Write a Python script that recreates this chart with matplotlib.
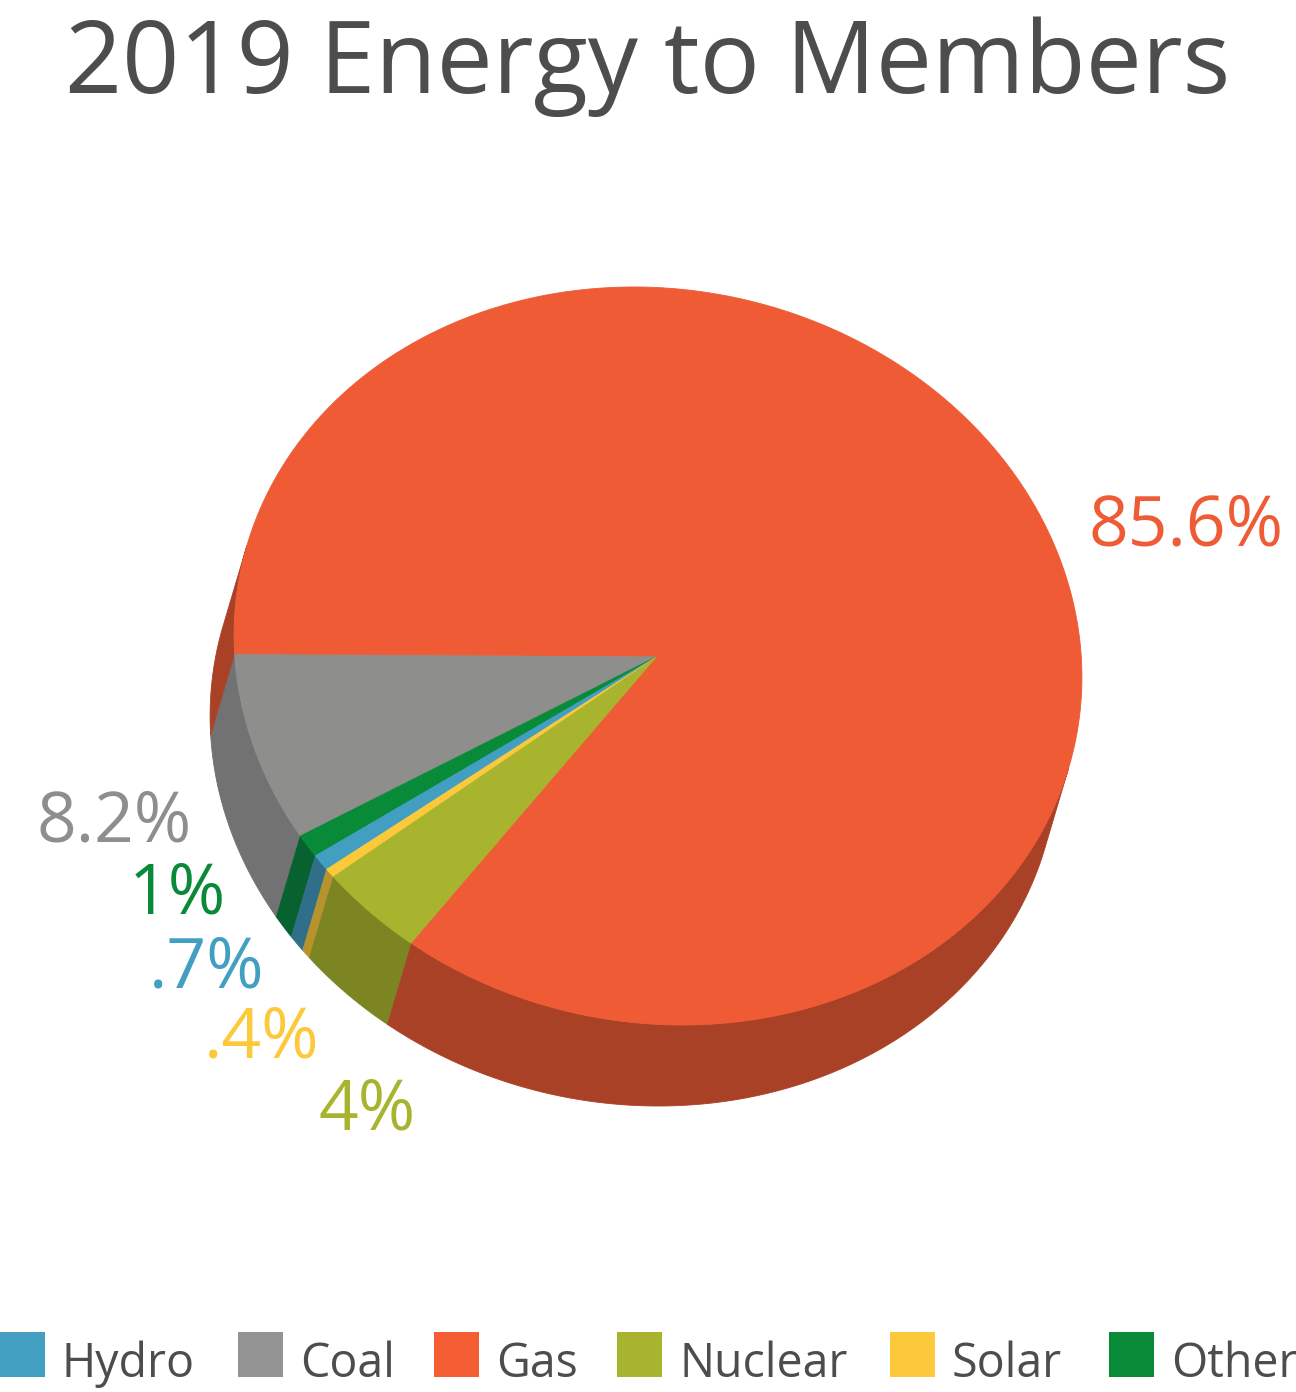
import numpy as np
import matplotlib
matplotlib.use("Agg")
import matplotlib.pyplot as plt
from matplotlib.patches import Polygon, Rectangle

# ---- data -------------------------------------------------------------
title = "2019 Energy to Members"

# slices in drawing order (counter-clockwise from the left edge)
slices = ["Coal", "Other", "Hydro", "Solar", "Nuclear", "Gas"]
shares = [8.2, 1.0, 0.7, 0.4, 4.0, 85.6]
top_colors  = ["#8E8F8D", "#098A38", "#439FC1", "#FCC93B", "#A8B42E", "#EE5B35"]
side_colors = ["#727272", "#07622F", "#2F6F8A", "#B8922C", "#7C8522", "#A94127"]

legend_names  = ["Hydro", "Coal", "Gas", "Nuclear", "Solar", "Other"]
legend_colors = ["#439FC1", "#929392", "#F55E35", "#A8B42E", "#FCC93B", "#098A38"]

# ---- layout (pixel space) --------------------------------------------
W, H = 1296, 1392
CX, CY = 658, 656
RX, RY = 426, 366.6
TILT = np.deg2rad(11.2)
DEPTH = (-24, 81)
START = 192.6

label_pos = {"Gas": (1088, 545), "Coal": (37, 842), "Other": (129, 914),
             "Hydro": (149, 987), "Solar": (204, 1058), "Nuclear": (319, 1130)}
legend_x = [0, 238, 434, 617, 890, 1109]

TEXT = "#4D4D4D"
plt.rcParams["font.family"] = ["Open Sans", "DejaVu Sans"]


def ellipse_pts(t):
    tr = np.deg2rad(t)
    u = RX * np.cos(tr)
    v = -RY * np.sin(tr)
    x = CX + u * np.cos(TILT) - v * np.sin(TILT)
    y = CY + u * np.sin(TILT) + v * np.cos(TILT)
    return x, y


def faces_viewer(t):
    # side wall is visible where the rim normal points along the extrusion
    tr = np.deg2rad(t)
    a, b = np.cos(tr) / RX, -np.sin(tr) / RY
    nx = a * np.cos(TILT) - b * np.sin(TILT)
    ny = a * np.sin(TILT) + b * np.cos(TILT)
    return nx * DEPTH[0] + ny * DEPTH[1] > 0


def runs(mask):
    out, start = [], None
    for i, m in enumerate(mask):
        if m and start is None:
            start = i
        if not m and start is not None:
            out.append((start, i))
            start = None
    if start is not None:
        out.append((start, len(mask)))
    return out


fig = plt.figure(figsize=(W / 100, H / 100), dpi=100)
ax = fig.add_axes([0, 0, 1, 1])
ax.set_xlim(0, W)
ax.set_ylim(H, 0)
ax.axis("off")

total = sum(shares)
edges = START + 360 * np.concatenate([[0], np.cumsum(shares)]) / total

# side walls first
for i in range(len(slices)):
    n = max(int((edges[i + 1] - edges[i]) * 4), 4)
    t = np.linspace(edges[i], edges[i + 1], n)
    for a, b in runs(faces_viewer(t)):
        if b - a < 2:
            continue
        x, y = ellipse_pts(t[a:b])
        pts = np.vstack([np.column_stack([x, y]),
                         np.column_stack([x + DEPTH[0], y + DEPTH[1]])[::-1]])
        ax.add_patch(Polygon(pts, closed=True, facecolor=side_colors[i],
                             edgecolor=side_colors[i], lw=0.6))

# top face
for i in range(len(slices)):
    n = max(int((edges[i + 1] - edges[i]) * 4), 4)
    t = np.linspace(edges[i], edges[i + 1], n)
    x, y = ellipse_pts(t)
    pts = np.vstack([[CX, CY], np.column_stack([x, y])])
    ax.add_patch(Polygon(pts, closed=True, facecolor=top_colors[i],
                         edgecolor=top_colors[i], lw=0.6))

# percentage labels
for name, val, col in zip(slices, shares, top_colors):
    txt = f"{val:g}%"
    if txt.startswith("0."):
        txt = txt[1:]
    lx, ly = label_pos[name]
    ax.text(lx, ly, txt, color=col, fontsize=50, ha="left", va="baseline")

ax.text(648, 93, title, color=TEXT, fontsize=72, ha="center", va="baseline")

# legend
for x0, name, col in zip(legend_x, legend_names, legend_colors):
    ax.add_patch(Rectangle((x0, 1332), 45, 45, facecolor=col, edgecolor="none"))
    ax.text(x0 + 62, 1377, name, color=TEXT, fontsize=33.5, ha="left", va="baseline")

fig.savefig("out.png", dpi=100)
